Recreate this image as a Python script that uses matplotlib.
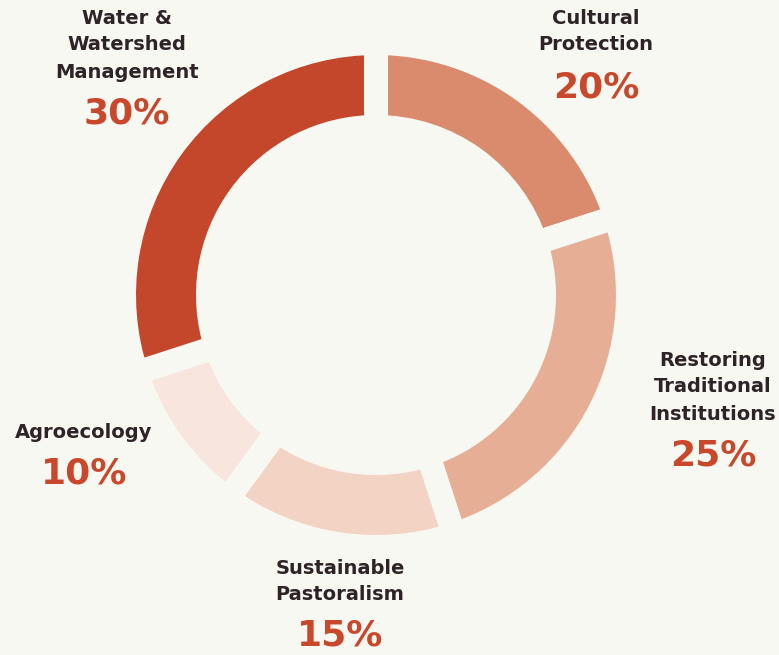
import matplotlib.pyplot as plt

categories = ['Cultural\nProtection', 'Restoring\nTraditional\nInstitutions',
              'Sustainable\nPastoralism', 'Agroecology', 'Water &\nWatershed\nManagement']
shares = [20, 25, 15, 10, 30]
colors = ['#DA8B6D', '#E6AF95', '#F2D3C4', '#F8E5DD', '#C5472B']

bg = '#F8F8F3'
W, H = 779, 655

fig = plt.figure(figsize=(W / 100, H / 100), dpi=100, facecolor=bg)
ax = fig.add_axes([0, 0, 1, 1])
ax.set_facecolor(bg)

# pie drawn in a flipped axis, so go counterclockwise with start at -90 to get top/clockwise on screen
ax.pie(shares, colors=colors, startangle=-90, counterclock=True,
       center=(376, 295), radius=252, frame=True,
       wedgeprops=dict(width=84, edgecolor=bg, linewidth=17.3))
ax.set_xlim(0, W)
ax.set_ylim(H, 0)
ax.axis('off')

# label anchor points (x, y of first line) and percent position
label_pos = [(596, 18, 88), (713, 360, 455), (340, 568, 636), (84, 433, 474), (127, 18, 113)]
font = 'DejaVu Sans'
for cat, val, (x, y0, yp) in zip(categories, shares, label_pos):
    for i, line in enumerate(cat.split('\n')):
        ax.text(x, y0 + i * 27, line, ha='center', va='center', fontsize=14,
                fontweight='bold', color='#2E2326', family=font)
    ax.text(x, yp, f'{val}%', ha='center', va='center', fontsize=26,
            fontweight='bold', color='#C9472B', family=font)

fig.savefig('out.png', dpi=100, facecolor=bg)
